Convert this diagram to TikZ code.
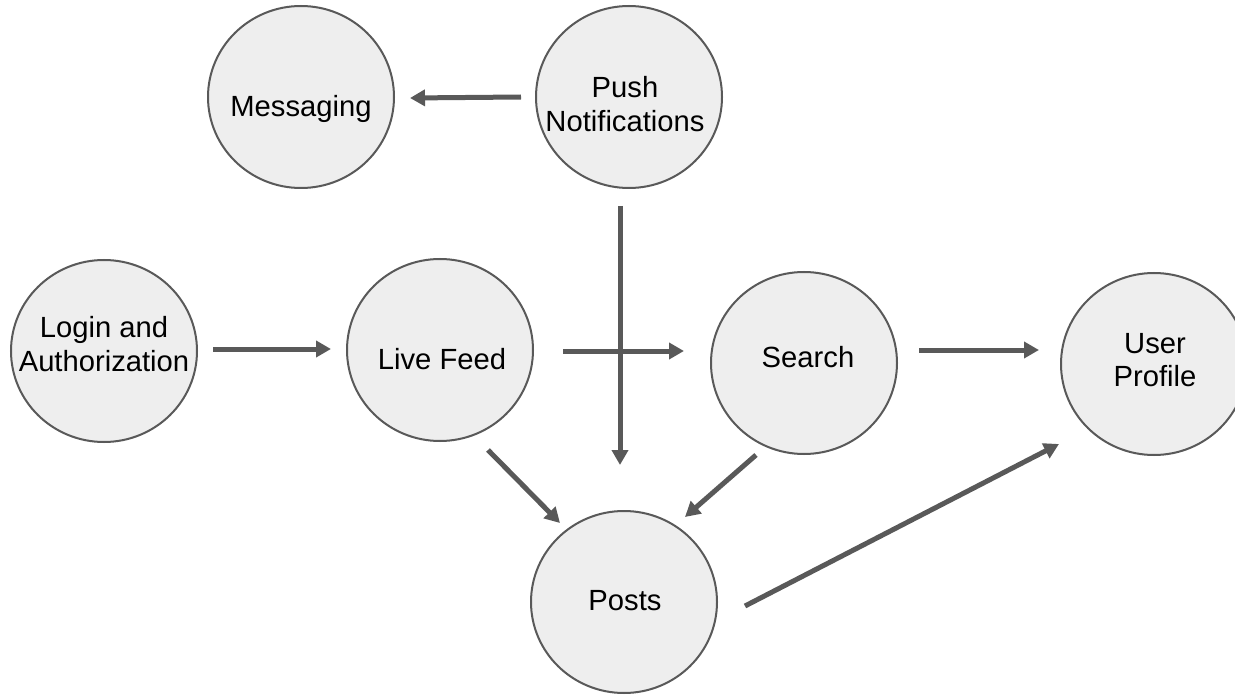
\documentclass[tikz,border=0pt]{standalone}
\usepackage{fontspec}
\setmainfont{Liberation Sans}
\usetikzlibrary{arrows.meta,shapes.geometric}
\definecolor{edgegray}{HTML}{595959}
\definecolor{fillgray}{HTML}{EEEEEE}
\begin{document}
\begin{tikzpicture}[x=1pt,y=-1pt,
  bubble/.style={ellipse,draw=edgegray,fill=fillgray,line width=2pt,
    minimum width=186pt,minimum height=182pt,inner sep=0pt},
  txt/.style={inner sep=0pt,align=center,font=\fontsize{29.2}{33.5}\selectfont},
  arr/.style={draw=edgegray,line width=5pt,-{Triangle[length=15pt,width=16pt]}}]
\useasboundingbox (0,0) rectangle (1235,695);
% circles
\node[bubble] (msg)    at (301,97)  {};
\node[bubble] (push)   at (629,97)  {};
\node[bubble] (login)  at (104,351) {};
\node[bubble] (live)   at (440,350) {};
\node[bubble] (search) at (804,363) {};
\node[bubble] (posts)  at (624,602) {};
\node[bubble] (user)   at (1154,364) {};
% texts
\node[txt] (tmsg)    at (301,108.7) {Messaging};
\node[txt] (tpush)   at (625,104)   {Push\\Notifications};
\node[txt] (tlogin)  at (104,344)   {Login and\\Authorization};
\node[txt] (tlive)   at (442,358.6) {Live Feed};
\node[txt] (tsearch) at (808,356.6) {Search};
\node[txt] (tposts)  at (625,601)   {Posts};
\node[txt] (tuser)   at (1155,360)  {User\\Profile};
% connectors
\draw[arr] ([shift={(-108,0)}]push.center) -- ([shift={(109,1)}]msg.center);
\draw[arr] ([shift={(109,-2)}]login.center) -- ([shift={(-109,-1)}]live.center);
\draw[arr] ([shift={(123,1)}]live.center) -- ([shift={(-120,-12)}]search.center);
\draw[arr] ([shift={(115,-13)}]search.center) -- ([shift={(-115,-14)}]user.center);
\draw[arr] ([shift={(-9,109)}]push.center) -- ([shift={(-4,-137)}]posts.center);
\draw[arr] ([shift={(48,100)}]live.center) -- ([shift={(-64,-79)}]posts.center);
\draw[arr] ([shift={(-48,92)}]search.center) -- ([shift={(61,-85)}]posts.center);
\draw[arr] ([shift={(121,4)}]posts.center) -- ([shift={(-95,80)}]user.center);
\end{tikzpicture}
\end{document}
